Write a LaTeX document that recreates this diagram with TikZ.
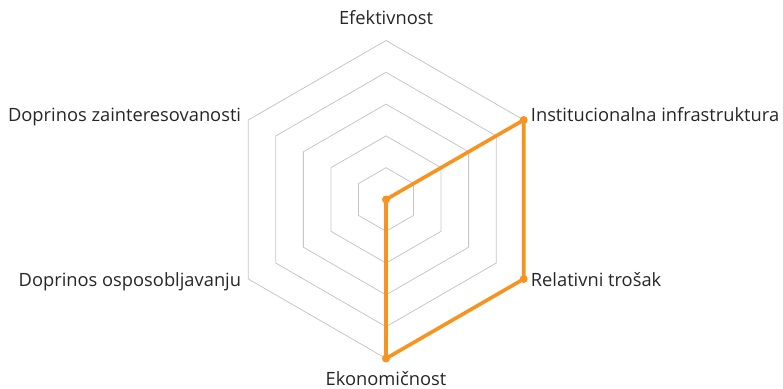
\documentclass[tikz,border=0pt]{standalone}
\usepackage{fontspec}
\setmainfont{Open Sans}
\usetikzlibrary{positioning}
\definecolor{radarorange}{HTML}{F7931E}
\definecolor{gridgray}{HTML}{C6C6C6}

\begin{document}
\begin{tikzpicture}[x=1pt, y=1pt,
    ring/.style={draw=gridgray, line width=0.8pt},
    series/.style={draw=radarorange, line width=3.6pt, line join=round},
    dot/.style={circle, fill=radarorange, inner sep=0pt, minimum size=8pt},
    axislabel/.style={font=\fontsize{18.3}{21}\selectfont, text=black!85, inner sep=0pt}]
    \useasboundingbox (0,0) rectangle (783,388);

    % Centar dijagrama
    \begin{scope}[shift={(386,188.5)}]
        \coordinate (c) at (0,0);
        % Vrhovi osa
        \coordinate (efe) at (90:159);
        \coordinate (ins) at (30:159);
        \coordinate (rel) at (-30:159);
        \coordinate (eko) at (-90:159);
        \coordinate (osp) at (-150:159);
        \coordinate (zai) at (150:159);

        % Mreza (pet sestouglova)
        \foreach \r in {31.8,63.6,95.4,127.2,159} {
            \draw[ring] (90:\r) -- (30:\r) -- (-30:\r) -- (-90:\r) -- (-150:\r) -- (150:\r) -- cycle;
        }
    \end{scope}

    % Serija podataka
    \draw[series] (c) -- (ins) -- (rel) -- (eko) -- cycle;
    \node[dot] (p0) at (c) {};
    \node[dot] (p1) at (ins) {};
    \node[dot] (p2) at (rel) {};
    \node[dot] (p3) at (eko) {};

    % Nazivi osa
    \node[axislabel, anchor=base] (lefe) at ([yshift=16pt]efe) {Efektivnost};
    \node[axislabel, anchor=mid west] (lins) at ([xshift=7pt, yshift=1pt]ins) {Institucionalna infrastruktura};
    \node[axislabel, anchor=mid west] (lrel) at ([xshift=7pt, yshift=-5pt]rel) {Relativni trošak};
    \node[axislabel, anchor=base] (leko) at ([yshift=-26.7pt]eko) {Ekonomičnost};
    \node[axislabel, anchor=mid east] (losp) at ([xshift=-7pt, yshift=-5pt]osp) {Doprinos osposobljavanju};
    \node[axislabel, anchor=mid east] (lzai) at ([xshift=-7pt, yshift=1pt]zai) {Doprinos zainteresovanosti};
\end{tikzpicture}
\end{document}
